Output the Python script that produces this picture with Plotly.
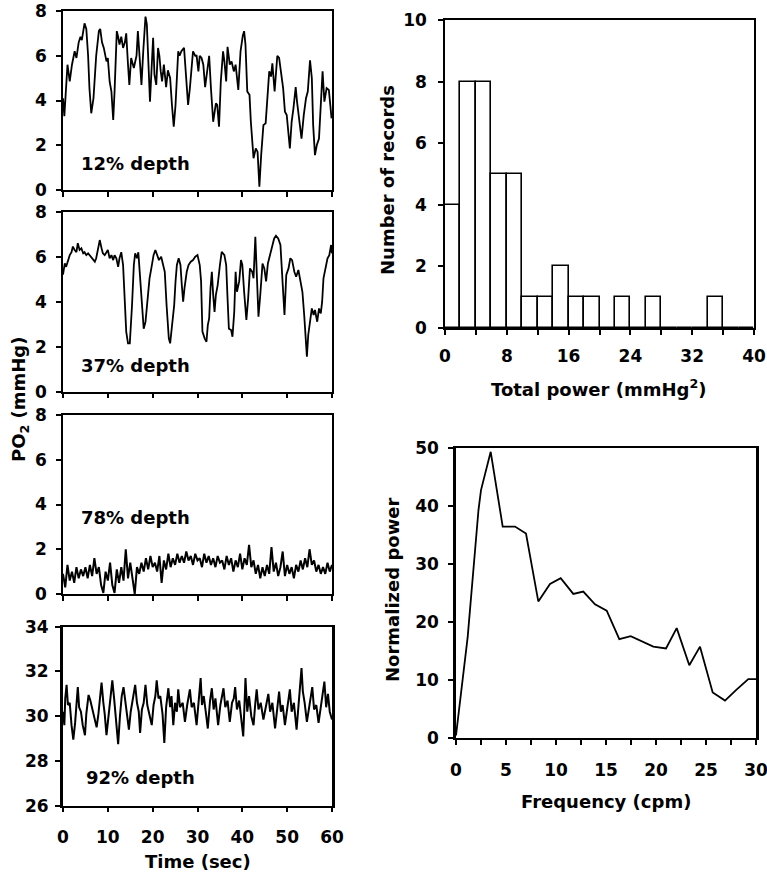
import plotly.graph_objects as go

# ---- PO2 traces (time in sec, PO2 in mmHg) ----
t_12 = [0.0, 0.3, 1.0, 1.5, 2.0, 2.6, 3.0, 3.5, 3.9, 4.2, 4.8, 5.2, 5.6, 5.9, 6.3, 6.8, 7.4, 8.0, 8.3, 8.7,
        9.1, 9.7, 10.0, 10.4, 10.8, 11.2, 11.5, 12.0, 12.3, 12.6, 13.0, 13.4, 13.8, 14.1, 14.5, 14.8, 15.2,
        15.8, 16.4, 16.7, 17.1, 17.5, 17.9, 18.4, 18.7, 19.1, 19.4, 19.9, 20.1, 20.4, 20.8, 21.2, 21.5, 21.8,
        22.1, 22.5, 23.0, 23.4, 23.9, 24.3, 24.7, 25.1, 25.7, 26.0, 26.4, 27.0, 27.4, 27.9, 28.3, 29.0, 29.5,
        29.8, 30.2, 30.5, 30.9, 31.3, 31.7, 32.1, 32.6, 33.0, 33.5, 34.1, 34.4, 34.8, 35.2, 35.7, 36.0, 36.4,
        36.7, 37.2, 37.6, 38.1, 38.5, 39.1, 39.6, 40.1, 40.4, 40.7, 41.1, 41.6, 41.9, 42.5, 43.0, 43.4, 43.8,
        44.2, 44.7, 45.2, 45.7, 46.0, 46.4, 46.7, 47.2, 47.8, 48.2, 48.6, 49.1, 49.5, 49.9, 50.6, 51.0, 51.4,
        51.9, 52.2, 52.7, 53.2, 53.7, 54.2, 54.6, 55.1, 55.5, 55.8, 56.2, 56.6, 57.1, 57.5, 57.9, 58.3, 58.8,
        59.3, 59.9]
po2_12 = [4.1, 3.3, 5.6, 4.85, 5.6, 6.2, 5.9, 6.6, 6.85, 6.7, 7.45, 7.2, 6.0, 4.55, 3.43, 4.1, 6.0, 7.1, 7.2, 6.6,
          6.35, 5.75, 5.9, 4.85, 4.4, 3.13, 4.4, 7.1, 6.85, 6.5, 6.85, 6.35, 6.6, 7.0, 5.6, 4.7, 5.9,
          5.45, 6.0, 7.1, 5.9, 4.7, 6.2, 7.75, 7.4, 5.3, 3.95, 6.0, 6.8, 5.15, 4.7, 6.35, 6.0, 5.3,
          4.85, 5.6, 4.6, 5.35, 5.0, 3.8, 2.83, 3.8, 6.2, 6.0, 6.2, 6.35, 5.3, 3.8, 4.55, 6.2, 6.0,
          6.0, 5.3, 6.0, 5.9, 5.6, 4.6, 5.3, 6.0, 4.55, 3.05, 3.87, 3.8, 2.83, 4.85, 6.2, 5.75, 4.85,
          6.4, 5.6, 5.75, 5.3, 5.6, 4.47, 6.2, 6.9, 7.1, 6.5, 4.4, 4.25, 3.05, 1.42, 1.86, 1.7, 0.15,
          1.56, 2.9, 2.98, 4.25, 5.3, 5.07, 5.66, 4.4, 6.0, 5.9, 5.3, 4.55, 3.5, 3.35, 1.86, 3.05, 3.65,
          4.6, 3.95, 3.05, 2.3, 3.35, 4.1, 4.4, 5.8, 5.0, 2.9, 1.56, 2.0, 2.3, 3.8, 5.3, 3.95, 4.55,
          4.47, 3.2]

t_37 = [0.0, 0.4, 0.7, 1.1, 1.5, 1.9, 2.2, 2.6, 3.0, 3.3, 3.7, 4.1, 4.5, 4.8, 5.2, 5.6, 5.9, 6.3, 6.7, 7.1,
        7.4, 7.8, 8.2, 8.6, 8.9, 9.3, 9.7, 10.0, 10.4, 10.8, 11.2, 11.5, 11.9, 12.3, 12.6, 13.0, 13.4, 13.8,
        14.1, 14.5, 14.9, 15.4, 15.8, 16.1, 16.5, 16.8, 17.2, 17.6, 18.0, 18.4, 18.8, 19.3, 19.7, 20.2, 20.6,
        21.0, 21.4, 21.9, 22.3, 22.7, 23.1, 23.6, 23.9, 24.3, 24.8, 25.1, 25.4, 25.8, 26.2, 26.5, 26.8, 27.1,
        27.6, 28.0, 28.5, 29.0, 29.5, 30.0, 30.5, 30.8, 31.1, 31.6, 32.0, 32.3, 32.6, 32.9, 33.2, 33.5, 33.8,
        34.1, 34.5, 35.0, 35.4, 36.0, 36.4, 36.7, 37.0, 37.5, 37.8, 38.2, 38.5, 38.8, 39.3, 39.7, 40.0, 40.4,
        40.9, 41.3, 41.7, 42.2, 42.5, 42.9, 43.3, 43.6, 44.0, 44.5, 44.9, 45.3, 45.7, 46.2, 46.7, 47.1, 47.5,
        48.0, 48.5, 48.9, 49.4, 49.8, 50.3, 50.7, 51.1, 51.6, 52.0, 52.5, 52.9, 53.4, 53.8, 54.1, 54.4, 54.7,
        55.2, 55.5, 55.9, 56.2, 56.7, 57.1, 57.5, 57.8, 58.1, 58.6, 59.0, 59.4, 59.8, 60.0]
po2_37 = [5.2, 5.7, 5.55, 5.85, 6.07, 6.2, 6.45, 6.3, 6.2, 6.6, 6.3, 6.37, 6.15, 6.2, 6.07, 6.15, 6.07, 6.0, 5.85, 5.78,
          5.93, 6.3, 6.74, 6.37, 6.15, 6.07, 6.2, 6.3, 5.93, 6.07, 5.85, 6.07, 5.93, 5.55, 5.93, 6.2, 5.63, 4.15,
          2.67, 2.15, 2.15, 3.85, 5.63, 6.15, 5.93, 6.2, 5.04, 3.55, 2.8, 3.1, 4.15, 5.04, 5.48, 6.07, 6.3,
          6.07, 5.85, 6.0, 5.63, 5.33, 3.85, 2.37, 2.15, 2.8, 3.85, 4.9, 5.63, 5.93, 5.63, 4.74, 4.0, 4.6,
          5.33, 5.63, 5.78, 5.85, 6.0, 6.07, 5.63, 4.9, 2.67, 2.37, 2.22, 2.96, 3.26, 4.6, 5.33, 4.3, 3.55,
          4.3, 4.74, 5.63, 6.22, 6.07, 5.63, 4.15, 2.8, 2.74, 2.44, 3.55, 5.33, 4.44, 4.9, 5.85, 5.63, 4.44,
          3.19, 4.15, 5.48, 5.33, 5.04, 6.89, 4.9, 3.33, 4.3, 5.7, 5.48, 4.9, 5.7, 6.07, 6.44, 6.81, 6.93,
          6.81, 6.52, 5.33, 3.41, 5.19, 5.48, 5.93, 5.85, 5.33, 5.11, 5.41, 5.04, 4.44, 3.41, 2.22, 1.56, 2.52,
          3.26, 3.7, 3.41, 3.63, 3.11, 3.7, 3.48, 4.0, 5.04, 5.63, 5.93, 6.07, 6.52, 6.15]

t_78 = [i * 0.5 for i in range(121)]
po2_78 = [0.9, 0.3, 1.3, 0.6, 1.0, 0.5, 1.2, 0.7, 1.1, 0.8, 1.2, 0.7, 1.3, 0.8, 1.6, 0.9, 1.2, 0.4, 0.05, 1.0,
          0.6, 1.4, 0.4, 0.05, 1.1, 0.5, 1.2, 0.6, 2.0, 0.7, 1.4, 0.8, 0.0, 1.2, 0.9, 1.4, 1.0, 1.6, 1.1, 1.7,
          1.2, 1.4, 1.0, 1.7, 0.5, 1.5, 1.1, 1.8, 1.2, 1.6, 1.3, 1.8, 1.4, 1.7, 1.4, 1.9, 1.5, 1.7, 1.3, 1.8,
          1.5, 1.6, 1.2, 1.8, 1.4, 1.7, 1.3, 1.6, 1.2, 1.7, 1.4, 1.5, 1.1, 1.7, 1.3, 1.6, 1.0, 1.5, 1.2, 1.8,
          1.1, 1.6, 1.3, 2.2, 1.2, 1.5, 0.9, 1.3, 0.7, 1.2, 0.8, 1.3, 0.9, 2.1, 1.0, 1.4, 0.8, 1.2, 1.9, 0.8,
          1.3, 0.9, 1.2, 0.7, 1.3, 1.0, 1.5, 1.1, 1.6, 1.2, 2.0, 1.3, 1.5, 1.0, 1.3, 0.9, 1.2, 0.9, 1.4, 1.0,
          1.3]

t_92 = [0.0, 0.3, 0.5, 0.8, 1.1, 1.5, 1.9, 2.3, 2.7, 3.0, 3.3, 3.6, 4.0, 4.4, 4.9, 5.2, 5.7, 6.1, 6.6, 7.0,
        7.5, 7.9, 8.3, 8.6, 9.0, 9.3, 9.7, 10.1, 10.5, 11.0, 11.4, 11.8, 12.3, 12.7, 13.1, 13.5, 13.9, 14.3,
        14.7, 15.1, 15.6, 16.1, 16.5, 16.9, 17.2, 17.6, 18.0, 18.4, 18.8, 19.3, 19.8, 20.2, 20.6, 20.9, 21.3,
        21.7, 22.2, 22.6, 23.0, 23.5, 23.9, 24.2, 24.6, 25.0, 25.4, 25.7, 26.1, 26.7, 27.2, 27.7, 28.0, 28.3,
        28.7, 29.2, 29.8, 30.2, 30.7, 31.0, 31.4, 31.9, 32.3, 32.8, 33.2, 33.6, 34.0, 34.6, 35.1, 35.8, 36.2,
        36.7, 37.2, 37.7, 38.1, 38.4, 38.8, 39.3, 39.8, 40.2, 40.5, 40.7, 41.1, 41.5, 42.0, 42.5, 42.9, 43.2,
        43.6, 44.1, 44.7, 45.2, 45.8, 46.2, 46.7, 47.3, 47.8, 48.2, 48.6, 49.0, 49.5, 50.0, 50.6, 51.0, 51.5,
        52.1, 52.6, 53.2, 53.5, 53.9, 54.4, 54.9, 55.6, 56.0, 56.5, 57.0, 57.5, 57.9, 58.3, 58.7, 59.1, 59.5,
        60.0]
po2_92 = [30.2, 29.6, 30.8, 31.4, 30.5, 30.6, 29.6, 28.95, 29.7, 30.6, 31.3, 30.4, 30.2, 29.6, 29.15, 30.1, 30.95,
          30.7, 30.3, 29.9, 29.5, 30.1, 30.9, 31.5, 30.6, 30.1, 29.15, 30.0, 30.8, 31.6, 30.8, 30.0, 28.75,
          30.0, 30.9, 31.3, 30.6, 30.1, 29.4, 30.2, 30.8, 31.4, 30.6, 30.2, 29.25, 30.3, 30.6, 31.4, 30.5,
          30.1, 29.6, 30.5, 30.9, 31.6, 30.8, 30.9, 30.1, 28.8, 30.4, 31.25, 30.4, 30.9, 29.6, 30.6, 30.2,
          31.2, 30.4, 30.6, 29.75, 30.5, 30.9, 31.2, 30.4, 30.6, 29.6, 30.4, 31.7, 30.5, 30.9, 30.1, 29.45,
          30.7, 31.25, 30.3, 30.8, 29.6, 30.5, 31.25, 30.4, 30.7, 29.75, 30.6, 30.8, 31.3, 30.3, 30.7, 29.8,
          29.1, 30.6, 31.7, 30.2, 30.9, 30.0, 29.6, 30.6, 31.2, 30.3, 30.6, 29.85, 30.4, 31.0, 30.2, 30.6,
          29.45, 30.5, 31.1, 30.2, 30.5, 29.6, 30.4, 31.2, 30.2, 30.6, 29.4, 30.6, 32.15, 31.1, 30.6, 29.75,
          30.5, 31.3, 30.3, 30.5, 29.7, 30.4, 30.8, 31.55, 30.4, 31.0, 30.2, 29.85]

# ---- histogram of total power ----
bin_centers = [1, 3, 5, 7, 9, 11, 13, 15, 17, 19, 21, 23, 25, 27, 29, 31, 33, 35, 37, 39]
n_records = [4, 8, 8, 5, 5, 1, 1, 2, 1, 1, 0, 1, 0, 1, 0, 0, 0, 1, 0, 0]

# ---- averaged power spectrum ----
freq_cpm = [0, 1.17, 2.25, 2.5, 3.47, 4.67, 5.9, 7.0, 8.23, 9.4, 10.47, 11.73, 12.73, 13.9, 15.07,
            16.33, 17.47, 18.57, 19.73, 21.0, 22.07, 23.33, 24.4, 25.67, 26.9, 28.0, 29.23, 30.0]
norm_power = [0.5, 17.5, 39.4, 42.8, 49.4, 36.5, 36.5, 35.3, 23.6, 26.6, 27.6, 24.9, 25.3, 23.1, 22.0,
              17.1, 17.6, 16.7, 15.8, 15.5, 19.0, 12.6, 15.8, 7.9, 6.5, 8.3, 10.2, 10.2]

W, H = 767, 876
FONT = "DejaVu Sans, Verdana, sans-serif"


def xp(px):
    return px / W


def yp(py):
    return 1 - py / H


fig = go.Figure()

traces = [(t_12, po2_12, 1.8), (t_37, po2_37, 1.8), (t_78, po2_78, 2.0), (t_92, po2_92, 2.0)]
for i, (t, v, lw) in enumerate(traces, start=1):
    fig.add_trace(go.Scatter(x=t, y=v, mode="lines", line=dict(color="black", width=lw),
                             xaxis=f"x{i}" if i > 1 else "x", yaxis=f"y{i}" if i > 1 else "y",
                             showlegend=False, hoverinfo="skip"))

fig.add_trace(go.Bar(x=bin_centers, y=n_records, width=2,
                     marker=dict(color="white", line=dict(color="black", width=1.6)),
                     xaxis="x5", yaxis="y5", showlegend=False))
fig.add_trace(go.Scatter(x=freq_cpm, y=norm_power, mode="lines", line=dict(color="black", width=1.8),
                         xaxis="x6", yaxis="y6", showlegend=False))

tick_font = dict(family=FONT, size=17, color="black", weight="bold")
axis_common = dict(showline=True, linecolor="black", linewidth=1.5, mirror=True, showgrid=False,
                   zeroline=False, ticks="outside", ticklen=5, tickwidth=1.5, tickcolor="black",
                   tickfont=tick_font, automargin=False, ticklabeloverflow="allow")

# left column panels (top, bottom pixel rows)
left_rows = [(11, 190), (211.7, 391.7), (415, 594), (626.7, 805.7)]
layout = {}
for i, (top, bot) in enumerate(left_rows, start=1):
    xn = "xaxis" if i == 1 else f"xaxis{i}"
    yn = "yaxis" if i == 1 else f"yaxis{i}"
    anchor_x = "y" if i == 1 else f"y{i}"
    anchor_y = "x" if i == 1 else f"x{i}"
    layout[xn] = dict(axis_common, domain=[xp(63), xp(332)], anchor=anchor_x, range=[0, 60],
                      tickvals=[0, 10, 20, 30, 40, 50, 60], showticklabels=(i == 4), ticklabelstandoff=10)
    if i < 4:
        layout[yn] = dict(axis_common, domain=[yp(bot), yp(top)], anchor=anchor_y, range=[0, 8],
                          tickvals=[0, 2, 4, 6, 8], ticklabelstandoff=6)
    else:
        layout[yn] = dict(axis_common, domain=[yp(bot), yp(top)], anchor=anchor_y, range=[26, 34],
                          tickvals=[26, 28, 30, 32, 34], ticklabelstandoff=3, linewidth=3)

minor_ticks = dict(ticks="outside", ticklen=5, tickwidth=1.5, tickcolor="black")
layout["xaxis5"] = dict(axis_common, domain=[xp(445), xp(754)], anchor="y5", range=[0, 40],
                        tickvals=[0, 8, 16, 24, 32, 40], minor=dict(minor_ticks, dtick=4, tick0=0),
                        ticklabelstandoff=7)
layout["yaxis5"] = dict(axis_common, domain=[yp(328), yp(20)], anchor="x5", range=[0, 10],
                        tickvals=[0, 2, 4, 6, 8, 10], ticklabelstandoff=8)
layout["xaxis6"] = dict(axis_common, domain=[xp(456), xp(756)], anchor="y6", range=[0, 30],
                        tickvals=[0, 5, 10, 15, 20, 25, 30], minor=dict(minor_ticks, dtick=2.5, tick0=0),
                        ticklabelstandoff=11)
layout["yaxis6"] = dict(axis_common, domain=[yp(738.3), yp(448.3)], anchor="x6", range=[0, 50],
                        tickvals=[0, 10, 20, 30, 40, 50], ticklabelstandoff=6, linewidth=2.5)

title_font = dict(family=FONT, size=18, color="black", weight="bold")
annotations = [
    dict(x=xp(135), y=yp(163), text="12% depth"),
    dict(x=xp(135), y=yp(365), text="37% depth"),
    dict(x=xp(135), y=yp(517), text="78% depth"),
    dict(x=xp(140), y=yp(777), text="92% depth"),
    dict(x=xp(198), y=yp(861), text="Time (sec)"),
    dict(x=xp(20), y=yp(400), text="PO<sub>2</sub> (mmHg)", textangle=-90),
    dict(x=xp(598), y=yp(388), text="Total power (mmHg<sup>2</sup>)"),
    dict(x=xp(388), y=yp(180), text="Number of records", textangle=-90),
    dict(x=xp(606), y=yp(801), text="Frequency (cpm)"),
    dict(x=xp(392), y=yp(590), text="Normalized power", textangle=-90),
]
for a in annotations:
    a.update(xref="paper", yref="paper", showarrow=False, font=title_font,
             xanchor="center", yanchor="middle")

fig.update_layout(
    width=W, height=H,
    margin=dict(l=0, r=0, t=0, b=0),
    paper_bgcolor="white", plot_bgcolor="white",
    font=dict(family=FONT, color="black"),
    annotations=annotations,
    bargap=0,
    **layout,
)

# drop the browser's default body margin so the figure fills the window exactly
fig.write_html("out.html", config={"displayModeBar": False},
               post_script="document.body.style.margin='0';")
